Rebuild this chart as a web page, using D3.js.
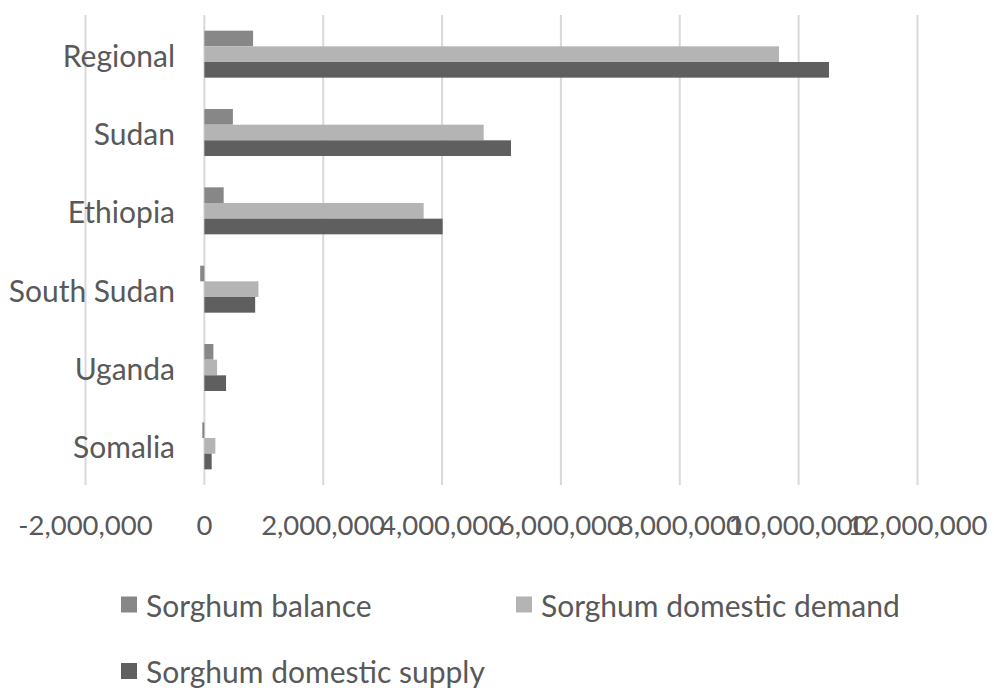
<!DOCTYPE html>
<html>
<head>
<meta charset="utf-8">
<script src="https://cdn.jsdelivr.net/npm/d3@7"></script>
<style>
  html, body { margin: 0; padding: 0; background: #fff; }
  svg { display: block; }
  text { font-family: Lato, "Open Sans", sans-serif; fill: #595959; }
</style>
</head>
<body>
<svg id="chart" width="994" height="688"></svg>
<script>
const categories = ["Regional", "Sudan", "Ethiopia", "South Sudan", "Uganda", "Somalia"];
const seriesNames = ["Sorghum balance", "Sorghum domestic demand", "Sorghum domestic supply"];
const balance = [820000, 480000, 325000, -70000, 152000, -35000];
const demand  = [9670000, 4700000, 3690000, 910000, 214000, 185000];
const supply  = [10510000, 5160000, 4010000, 855000, 365000, 123000];
const tickValues = [-2000000, 0, 2000000, 4000000, 6000000, 8000000, 10000000, 12000000];
const colors = ["#878787", "#b4b4b4", "#5f5f5f"];

const seriesValues = [balance, demand, supply];
const svg = d3.select("#chart");

const x = d3.scaleLinear().domain([-2000000, 12000000]).range([85.5, 917.5]);
const y = d3.scaleBand().domain(categories).range([15, 485]).paddingInner(0.4).paddingOuter(0.2);
const ySub = d3.scaleBand().domain(seriesNames).range([0, y.bandwidth()]);

// gridlines
svg.append("g").selectAll("line").data(tickValues).join("line")
  .attr("x1", d => x(d)).attr("x2", d => x(d))
  .attr("y1", 15).attr("y2", 485)
  .attr("stroke", "#d9d9d9").attr("stroke-width", 2);

// bars
const groups = svg.append("g").selectAll("g").data(categories).join("g")
  .attr("transform", d => `translate(0,${y(d)})`);
groups.selectAll("rect")
  .data((c, i) => seriesNames.map((s, j) => ({ s, v: seriesValues[j][i], j })))
  .join("rect")
  .attr("x", d => x(Math.min(0, d.v)))
  .attr("width", d => Math.abs(x(d.v) - x(0)))
  .attr("y", d => ySub(d.s))
  .attr("height", ySub.bandwidth())
  .attr("fill", d => colors[d.j]);

// category labels
svg.append("g").selectAll("text").data(categories).join("text")
  .attr("x", 175).attr("y", d => y(d) + y.bandwidth() / 2 + 12.5)
  .attr("text-anchor", "end")
  .attr("font-size", 30).text(d => d);

// x tick labels
const fmt = d3.format(",");
svg.append("g").selectAll("text").data(tickValues).join("text")
  .attr("x", d => x(d)).attr("y", 535)
  .attr("text-anchor", "middle").attr("font-size", 27.5)
  .text(d => fmt(d).replace("\u2212", "-"));

// legend
const legendPos = [[121, 604.5], [516, 604.5], [121, 671]];
const lg = svg.append("g").selectAll("g").data(seriesNames).join("g")
  .attr("transform", (d, i) => `translate(${legendPos[i][0]},${legendPos[i][1]})`);
lg.append("rect").attr("x", 0).attr("y", -8).attr("width", 16).attr("height", 16)
  .attr("fill", (d, i) => colors[i]);
lg.append("text").attr("x", 25).attr("y", 12)
  .attr("font-size", 30).text(d => d);
</script>
</body>
</html>
